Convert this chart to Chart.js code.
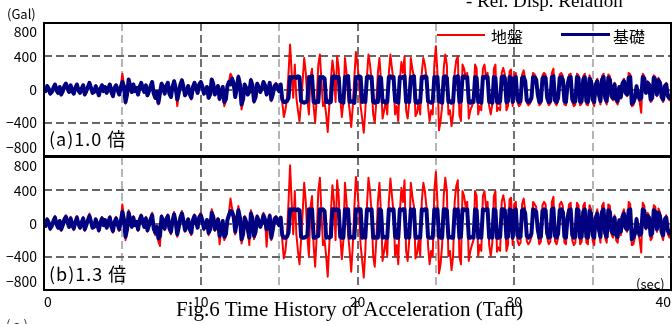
<!DOCTYPE html>
<html>
<head>
<meta charset="utf-8">
<script src="https://cdn.jsdelivr.net/npm/chart.js@4"></script>
<style>
  body { margin: 0; width: 672px; height: 324px; background: #fff; overflow: hidden; position: relative; }
  .box { position: absolute; left: 0; width: 672px; }
  .t { position: absolute; white-space: nowrap; line-height: 1; color: #000; }
  .jp { font-family: "Noto Sans CJK JP", "Noto Sans", sans-serif; }
  .serif { font-family: "Liberation Serif", "DejaVu Serif", serif; }
  .line { position: absolute; }
</style>
</head>
<body>
<div class="box" style="top:0;height:158px"><canvas id="top"></canvas></div>
<div class="box" style="top:155px;height:169px"><canvas id="bottom"></canvas></div>

<div class="t serif" style="left:466px;top:-9px;font-size:19px">- Rel. Disp. Relation</div>
<div class="t jp" style="left:7px;top:7px;font-size:13px">(Gal)</div>
<div class="line" style="left:437px;top:34px;width:48px;height:2px;background:#ff0000"></div>
<div class="t jp" style="left:491px;top:28px;font-size:16px">地盤</div>
<div class="line" style="left:561px;top:33px;width:49px;height:3px;background:#000080"></div>
<div class="t jp" style="left:613px;top:28px;font-size:16px">基礎</div>
<div class="t jp" style="left:49px;top:129px;font-size:18px;letter-spacing:1px">(a)1.0 倍</div>
<div class="t jp" style="left:49px;top:264px;font-size:18px;letter-spacing:1px">(b)1.3 倍</div>
<div class="t jp" style="left:636px;top:277px;font-size:13px">(sec)</div>
<div class="t serif" style="left:176px;top:299px;font-size:21px">Fig.6 Time History of Acceleration (Taft)</div>
<div class="t jp" style="left:6px;top:318px;font-size:13px;color:#333">( a )</div>

<script>
// sampling step of the records (s)
const DT = 0.1;
const xTicks = [0, 5, 10, 15, 20, 25, 30, 35, 40];
const yTicks = [-800, -400, 0, 400, 800];

// (a) 1.0 times - ground (red), one row = 2 s
const groundA = [
  40, -30, 50, 10, -60, -40, 30, 70, -10, -50, 40, -70, -30, 50, 80, 10, -40, 60, -30, -60,
  30, 70, -10, -50, 10, 60, -70, -30, 40, 90, 30, -50, -40, 50, -10, -80, 10, 60, -30, 40,
  -50, 10, 70, -40, -90, 30, 60, -10, -70, 40, 190, 60, -170, -70, 130, 50, -40, 70, -30, 30,
  -70, 40, 90, 30, -40, 60, -80, -30, 50, 100, -60, -110, -40, -180, -50, 80, 40, -60, 50, 90,
  -60, -100, 40, 110, 30, -200, -60, 70, 120, 40, -80, -30, 50, -70, -120, 40, 90, 30, -50, 70,
  100, 50, -60, -30, 40, -110, -70, 130, 80, -70, -30, 50, -130, -70, 40, -200, -140, 50, 100, 190,
  150, 80, -100, 30, 170, 70, -240, -150, 70, 30, -70, -40, 130, 60, -160, -100, 80, 40, -40, 10,
  100, 60, -70, -30, 90, -140, -70, 60, 80, 40, -30, 60, -150, -330, -250, -100, 200, 540, 200, -100,
  300, -100, -250, -380, -150, 100, 380, 200, -120, -300, 150, 250, -200, -400, -100, 300, 420, 100, -200, -150,
  -300, -510, -200, 100, 350, 200, -150, 400, 250, -100, -330, -150, 380, 200, -100, -250, -450, -200, 150, 450,
  300, 100, -200, -350, -520, -250, 150, 420, 300, 100, -300, -400, -150, 200, 380, 100, -350, -250, -150, -300,
  200, 420, 250, 100, -300, -200, -380, 100, 330, 200, 400, -250, -350, -150, 380, 250, 150, -320, -280, -150,
  -300, 200, 380, 300, 150, -200, -380, -250, -300, 300, 520, 200, -490, -380, -200, 250, 420, 300, -300, -250,
  -440, -300, 200, 350, 400, -300, -380, 300, 250, 150, 200, -350, -250, -200, -150, 300, 250, -300, -200, -250,
  250, 300, 150, 200, -200, -300, -180, 250, 300, -260, -220, -250, 200, 260, 180, -250, -200, 220, 240, -200,
  180, 200, -150, -200, -180, 180, 230, 120, -160, -190, -170, -120, 200, 180, 150, -80, -190, -170, 170, 200,
  180, -130, -190, -170, 200, 250, -160, -190, -130, 180, 200, 160, -180, -190, 80, 180, 190, -150, -200, -180,
  190, 170, -190, -170, 160, 190, -180, -190, 170, 130, -150, -200, 80, 130, -80, -180, 160, 190, -130, -180,
  180, 160, -100, -130, 80, -150, -180, 40, -110, 90, 130, -50, -80, 200, 180, -200, -190, -130, 50, -80,
  -150, -280, 190, 160, -50, 100, 80, -150, -130, 170, 150, -80, 140, 100, -110, -150, 50, 80, -100, -130,
  -80
];
// (a) 1.0 times - foundation (navy)
const foundA = [
  30, -20, 40, 10, -50, -30, 20, 60, -10, -40, 30, -60, -20, 40, 70, 10, -30, 50, -20, -50,
  20, 60, -10, -40, 10, 50, -60, -20, 30, 80, 20, -40, -30, 40, -10, -70, 10, 50, -20, 30,
  -40, 10, 60, -30, -80, 20, 50, -10, -60, 30, 90, 40, -150, -60, 120, 40, -30, 60, -20, 20,
  -60, 30, 80, 20, -30, 50, -70, -20, 40, 90, -50, -100, -30, -160, -40, 70, 30, -50, 40, 80,
  -50, -90, 30, 100, 20, -120, -40, 60, 110, 30, -70, -20, 40, -60, -100, 30, 80, 20, -40, 60,
  90, 40, -50, -20, 30, -100, -60, 120, 70, -60, -20, 40, -110, -60, 30, -150, -120, 40, 90, 60,
  130, 70, -90, 20, 150, 60, -180, -120, 60, 20, -60, -30, 110, 50, -140, -90, 70, 30, -30, 10,
  90, 50, -60, -20, 80, -120, -60, 40, 60, 20, -20, 60, -120, -150, -150, -140, -100, 150, 140, 150,
  150, 140, 160, 150, -140, -150, -160, -150, -140, 150, 140, 160, -150, -160, -140, -150, 150, 140, 150, 130,
  -150, -140, -160, -150, 150, 160, 140, 150, 150, -140, -150, -160, 150, 140, 160, -150, -140, -150, -160, 150,
  140, 160, 150, -150, -140, -150, 150, 160, 140, 150, -150, -160, -140, -150, 150, 140, -150, -140, -160, -150,
  150, 160, 140, 150, -140, -150, -160, 150, 140, 150, 160, -150, -140, -150, 150, 140, 160, -150, -160, -140,
  -150, 150, 140, 160, 150, -140, -150, -160, -150, 150, 140, 150, -140, -150, -160, 150, 160, 140, -150, -140,
  -160, -150, 150, 140, 160, -150, -140, 150, 160, 140, 150, -150, -160, -140, -150, 150, 140, -150, -140, -160,
  150, 140, 160, 150, -150, -140, -160, 150, 140, -150, -160, -140, 150, 160, 140, -150, -140, 150, 140, -150,
  130, 150, -120, -150, -140, 140, 150, 100, -130, -150, -140, -100, 150, 140, 120, -60, -150, -140, 130, 150,
  140, -100, -150, -140, 150, 160, -130, -150, -100, 140, 150, 120, -140, -150, 60, 140, 150, -120, -150, -140,
  150, 140, -150, -140, 120, 150, -140, -150, 130, 100, -120, -150, 60, 100, -60, -140, 120, 150, -100, -140,
  140, 120, -80, -100, 60, -120, -140, 30, -90, 70, 100, -40, -60, 140, 150, -170, -150, -100, 40, -60,
  -120, -100, 150, 130, -40, 80, 60, -120, -100, 140, 120, -60, 110, 80, -90, -120, 40, 60, -80, -100,
  -60
];
// (b) 1.3 times - ground (red)
const groundB = [
  50, -40, 60, 10, -80, -40, 40, 90, -10, -60, 40, -90, -30, 60, 100, 10, -50, 80, -30, -80,
  30, 90, -10, -60, 10, 80, -90, -30, 50, 120, 30, -60, -50, 60, -10, -100, 10, 80, -30, 50,
  -60, 10, 90, -50, -110, 30, 80, -10, -90, 40, 230, 70, -200, -90, 160, 50, -50, 90, -30, 30,
  -90, 50, 110, 30, -50, 80, -100, -30, 60, 130, -80, -140, -50, -220, -270, 100, 40, -80, 60, 110,
  -80, -130, 40, 140, 30, -160, -50, 90, 150, 40, -100, -30, 60, -90, -140, 50, 110, 30, -60, 90,
  130, 50, -80, -30, 50, -140, -90, 170, 100, -90, -30, 60, -250, -90, 40, -200, -160, 50, 130, 300,
  180, 100, -130, 30, 210, 90, -240, -160, 90, 30, -90, -260, 160, 80, -190, -130, 100, 40, -50, 10,
  130, 70, -280, -30, 110, -200, -90, 70, 90, 30, -30, 80, -200, -420, -330, -130, 260, 700, 260, -130,
  390, -130, -330, -490, -200, 130, 490, 260, -160, -390, 200, 330, -260, -520, -130, 390, 550, 130, -260, -200,
  -390, -640, -260, 130, 460, 260, -200, 520, 330, -130, -430, -200, 490, 260, -130, -330, -580, -260, 200, 560,
  390, 130, -260, -450, -650, -330, 200, 550, 390, 130, -390, -520, -200, 260, 490, 130, -450, -330, -200, -390,
  260, 540, 330, 130, -390, -260, -490, 130, 430, 260, 520, -330, -450, -200, 490, 330, 200, -420, -360, -200,
  -390, 260, 490, 390, 200, -260, -490, -330, -390, 390, 620, 260, -600, -490, -260, 330, 550, 390, -390, -330,
  -560, -390, 260, 450, 520, -390, -490, 390, 330, 200, 260, -450, -330, -260, -200, 390, 330, -390, -260, -330,
  330, 390, 200, 260, -260, -390, -230, 330, 390, -340, -290, -330, 260, 340, 230, -330, -260, 290, 310, -260,
  230, 260, -200, -260, -230, 230, 300, 160, -210, -250, -220, -160, 260, 230, 200, -100, -250, -220, 220, 260,
  230, -170, -250, -220, 260, 320, -210, -250, -170, 230, 260, 210, -230, -250, 100, 230, 250, -200, -260, -230,
  250, 220, -250, -220, 210, 250, -230, -250, 220, 170, -200, -260, 100, 170, -100, -230, 210, 250, -170, -230,
  230, 210, -130, -170, 100, -200, -230, 50, -140, 120, 170, -70, -100, 260, 230, -260, -250, -170, 70, -100,
  -200, -350, 250, 210, -70, 130, 100, -200, -170, 220, 200, -100, 180, 130, -140, -200, 70, 100, -130, -170,
  -100
];
// (b) 1.3 times - foundation (navy)
const foundB = [
  30, -30, 50, 10, -60, -30, 30, 70, -10, -50, 30, -70, -20, 50, 80, 10, -40, 60, -20, -60,
  20, 70, -10, -50, 10, 60, -70, -20, 40, 90, 20, -50, -40, 50, -10, -80, 10, 60, -20, 40,
  -50, 10, 70, -40, -90, 20, 60, -10, -70, 30, 140, 50, -160, -70, 130, 40, -40, 70, -20, 20,
  -70, 40, 90, 20, -40, 60, -80, -20, 50, 100, -60, -110, -40, -180, -150, 80, 30, -60, 50, 90,
  -60, -100, 30, 110, 20, -130, -40, 70, 120, 30, -80, -20, 50, -70, -110, 40, 90, 20, -50, 70,
  100, 40, -60, -20, 40, -110, -70, 130, 80, -70, -20, 50, -150, -70, 30, -160, -130, 40, 100, 150,
  140, 80, -100, 20, 160, 70, -190, -130, 70, 20, -70, -170, 120, 60, -150, -100, 80, 30, -40, 10,
  100, 50, -70, -20, 90, -170, -70, 50, 70, 20, -20, 70, -140, -170, -170, -160, -110, 170, 160, 170,
  170, 160, 170, 160, -160, -170, -170, -160, -150, 170, 160, 170, -170, -170, -160, -150, 170, 160, 170, 150,
  -170, -160, -170, -160, 170, 170, 160, 170, 160, -160, -170, -170, 170, 160, 170, -170, -160, -170, -170, 170,
  160, 170, 170, -170, -160, -170, 170, 170, 160, 170, -170, -170, -160, -170, 170, 160, -170, -160, -170, -170,
  170, 170, 160, 170, -160, -170, -170, 170, 160, 170, 170, -170, -160, -170, 170, 160, 170, -170, -170, -160,
  -170, 170, 160, 170, 170, -160, -170, -170, -170, 170, 160, 170, -160, -170, -170, 170, 170, 160, -170, -160,
  -170, -170, 170, 160, 170, -170, -160, 170, 170, 160, 170, -170, -170, -160, -170, 170, 160, -170, -160, -170,
  170, 160, 170, 170, -170, -160, -170, 170, 160, -170, -170, -160, 170, 170, 160, -170, -160, 170, 160, -170,
  150, 170, -140, -170, -160, 160, 170, 120, -150, -170, -160, -120, 170, 160, 140, -70, -170, -160, 150, 170,
  160, -120, -170, -160, 170, 180, -150, -170, -120, 160, 170, 140, -160, -170, 70, 160, 170, -140, -170, -160,
  170, 160, -170, -160, 140, 170, -160, -170, 150, 120, -140, -170, 70, 120, -70, -160, 140, 170, -120, -160,
  160, 140, -90, -120, 70, -140, -160, 40, -100, 80, 120, -50, -70, 160, 170, -190, -170, -120, 50, -70,
  -140, -120, 170, 150, -50, 90, 70, -140, -120, 160, 140, -70, 130, 90, -100, -140, 50, 70, -90, -120,
  -70
];

const FONT = '"Noto Sans CJK JP", "Noto Sans", sans-serif';

const pts = (arr) => arr.map((v, i) => ({ x: +(i * DT).toFixed(2), y: v }));

// black box round the plot area
const frame = {
    id: 'frame',
    afterDatasetsDraw(chart) {
        const { ctx, chartArea: a } = chart;
        ctx.save();
        ctx.strokeStyle = '#000';
        ctx.lineWidth = 2;
        ctx.strokeRect(a.left, a.top, a.right - a.left, a.bottom - a.top);
        ctx.restore();
    }
};

// end labels are pushed inside the box with an empty second line
const yLabel = (v) => {
    const s = v < 0 ? '\u2212' + Math.abs(v) : String(v);
    if (v === yTicks[yTicks.length - 1]) return ['', s];
    if (v === yTicks[0]) return [s, ''];
    return s;
};

const makeChart = (id, ground, found, showX, pad) => new Chart(document.getElementById(id), {
    type: 'line',
    data: {
        datasets: [
            { label: '地盤', data: pts(ground), borderColor: '#ff0000', borderWidth: 2, order: 1 },
            { label: '基礎', data: pts(found), borderColor: '#000080', borderWidth: 4, order: 0 }
        ]
    },
    options: {
        animation: false,
        responsive: true,
        maintainAspectRatio: false,
        devicePixelRatio: 1,
        layout: { padding: pad },
        elements: {
            point: { radius: 0 },
            line: { tension: 0, borderJoinStyle: 'round', fill: false }
        },
        plugins: { legend: { display: false }, tooltip: { enabled: false } },
        scales: {
            x: {
                type: 'linear',
                min: 0,
                max: 40,
                afterBuildTicks: (s) => { s.ticks = xTicks.map(v => ({ value: v })); },
                afterFit: (s) => { s.height = showX ? 20 : 0; s.paddingLeft = 0; s.paddingRight = 0; },
                ticks: {
                    display: showX,
                    autoSkip: false,
                    maxRotation: 0,
                    align: 'inner',
                    padding: 3,
                    color: '#000',
                    font: { family: FONT, size: 14 },
                    callback: (v) => v % 10 === 0 ? String(v) : ''
                },
                grid: {
                    drawTicks: false,
                    lineWidth: 2,
                    color: (c) => c.tick.value % 10 === 0 ? '#707070' : '#b4b4b4'
                },
                border: { display: false, dash: [8, 4] }
            },
            y: {
                min: -800,
                max: 800,
                afterBuildTicks: (s) => { s.ticks = yTicks.map(v => ({ value: v })); },
                afterFit: (s) => { s.width = 44; s.paddingTop = 0; s.paddingBottom = 0; },
                ticks: {
                    autoSkip: false,
                    padding: 7,
                    color: '#000',
                    font: { family: FONT, size: 14 },
                    callback: yLabel
                },
                grid: {
                    drawTicks: false,
                    lineWidth: 2,
                    color: (c) => Math.abs(c.tick.value) === 800 ? 'rgba(0,0,0,0)' : '#666'
                },
                border: { display: false, dash: [8, 4] }
            }
        }
    },
    plugins: [frame]
});

makeChart('top', groundA, foundA, false, { top: 23, right: 1, bottom: 2, left: 0 });
makeChart('bottom', groundB, foundB, true, { top: 2, right: 1, bottom: 14, left: 0 });
</script>
</body>
</html>
